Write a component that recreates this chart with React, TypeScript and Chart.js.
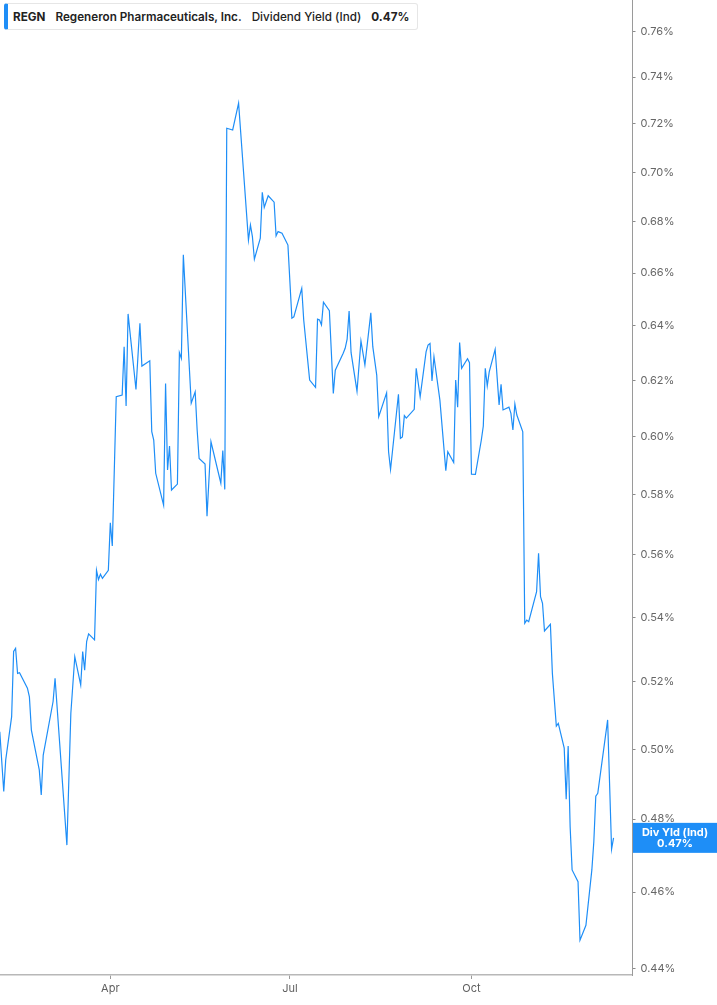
import { useEffect, useRef } from "react";
import { Chart, registerables, type Plugin } from "chart.js";

Chart.register(...registerables);

// trading dates and the indicated dividend yield (%)
const dates = [
  "2025-02-04", "2025-02-06", "2025-02-07", "2025-02-10", "2025-02-11", "2025-02-12", "2025-02-13", "2025-02-14",
  "2025-02-18", "2025-02-19", "2025-02-20", "2025-02-24", "2025-02-25", "2025-02-26", "2025-03-03", "2025-03-04",
  "2025-03-10", "2025-03-12", "2025-03-14", "2025-03-17", "2025-03-18", "2025-03-19", "2025-03-20", "2025-03-21",
  "2025-03-24", "2025-03-25", "2025-03-26", "2025-03-27", "2025-03-28", "2025-03-31", "2025-04-01", "2025-04-02",
  "2025-04-04", "2025-04-07", "2025-04-08", "2025-04-09", "2025-04-10", "2025-04-14", "2025-04-16", "2025-04-17",
  "2025-04-21", "2025-04-22", "2025-04-23", "2025-04-24", "2025-04-28", "2025-04-29", "2025-04-30", "2025-05-01",
  "2025-05-02", "2025-05-05", "2025-05-06", "2025-05-07", "2025-05-08", "2025-05-12", "2025-05-14", "2025-05-15",
  "2025-05-16", "2025-05-19", "2025-05-20", "2025-05-22", "2025-05-27", "2025-05-28", "2025-05-29", "2025-05-30",
  "2025-06-02", "2025-06-05", "2025-06-10", "2025-06-11", "2025-06-12", "2025-06-13", "2025-06-16", "2025-06-17",
  "2025-06-18", "2025-06-20", "2025-06-23", "2025-06-24", "2025-06-25", "2025-06-27", "2025-06-30", "2025-07-02",
  "2025-07-03", "2025-07-07", "2025-07-08", "2025-07-11", "2025-07-14", "2025-07-15", "2025-07-16", "2025-07-17",
  "2025-07-18", "2025-07-21", "2025-07-23", "2025-07-24", "2025-07-28", "2025-07-29", "2025-07-30", "2025-07-31",
  "2025-08-01", "2025-08-04", "2025-08-06", "2025-08-08", "2025-08-11", "2025-08-12", "2025-08-14", "2025-08-15",
  "2025-08-19", "2025-08-20", "2025-08-21", "2025-08-25", "2025-08-26", "2025-08-27", "2025-08-28", "2025-08-29",
  "2025-09-02", "2025-09-03", "2025-09-05", "2025-09-08", "2025-09-09", "2025-09-10", "2025-09-11", "2025-09-12",
  "2025-09-15", "2025-09-18", "2025-09-19", "2025-09-22", "2025-09-23", "2025-09-24", "2025-09-25", "2025-09-26",
  "2025-09-29", "2025-09-30", "2025-10-01", "2025-10-03", "2025-10-06", "2025-10-07", "2025-10-08", "2025-10-09",
  "2025-10-10", "2025-10-13", "2025-10-15", "2025-10-16", "2025-10-17", "2025-10-20", "2025-10-21", "2025-10-22",
  "2025-10-23", "2025-10-24", "2025-10-27", "2025-10-28", "2025-10-29", "2025-10-30", "2025-11-03", "2025-11-04",
  "2025-11-05", "2025-11-06", "2025-11-07", "2025-11-10", "2025-11-11", "2025-11-13", "2025-11-14", "2025-11-17",
  "2025-11-18", "2025-11-19", "2025-11-20", "2025-11-21", "2025-11-24", "2025-11-25", "2025-11-28", "2025-12-01",
  "2025-12-02", "2025-12-03", "2025-12-04", "2025-12-09", "2025-12-11", "2025-12-12",
];

const divYield = [
  0.5051, 0.4878, 0.4969, 0.5096, 0.5293, 0.5303, 0.5226, 0.5228,
  0.5181, 0.5155, 0.5056, 0.494, 0.4868, 0.4983, 0.5141, 0.5211,
  0.4728, 0.5106, 0.5277, 0.5191, 0.5293, 0.5236, 0.5324, 0.5348,
  0.5329, 0.555, 0.552, 0.5537, 0.5524, 0.555, 0.5706, 0.5629,
  0.6141, 0.6147, 0.6323, 0.6108, 0.6445, 0.6167, 0.641, 0.6252,
  0.6271, 0.6017, 0.5988, 0.5873, 0.5765, 0.6189, 0.5884, 0.5967,
  0.5816, 0.5836, 0.6301, 0.628, 0.6671, 0.6118, 0.6159, 0.6023,
  0.5924, 0.5905, 0.5728, 0.5982, 0.5839, 0.5951, 0.5818, 0.7182,
  0.7175, 0.7288, 0.6729, 0.6788, 0.6742, 0.6654, 0.6736, 0.6919,
  0.6858, 0.6905, 0.6879, 0.6745, 0.6762, 0.6756, 0.6709, 0.6429,
  0.6434, 0.6542, 0.6422, 0.6201, 0.6175, 0.6425, 0.6422, 0.6404,
  0.6489, 0.6457, 0.6153, 0.6237, 0.6299, 0.6317, 0.6351, 0.6456,
  0.6301, 0.6161, 0.6344, 0.6256, 0.6449, 0.6323, 0.6219, 0.607,
  0.6155, 0.5947, 0.5886, 0.615, 0.5994, 0.5999, 0.6074, 0.6065,
  0.6096, 0.6244, 0.6141, 0.6304, 0.6329, 0.6335, 0.6198, 0.6286,
  0.6129, 0.5882, 0.5947, 0.591, 0.6201, 0.6104, 0.6338, 0.6244,
  0.6279, 0.6264, 0.587, 0.5869, 0.5988, 0.6037, 0.6244, 0.618,
  0.6231, 0.6313, 0.6112, 0.6186, 0.6094, 0.6104, 0.6082, 0.6023,
  0.6115, 0.6076, 0.6017, 0.5381, 0.5391, 0.5386, 0.5481, 0.5605,
  0.5465, 0.5444, 0.5357, 0.5378, 0.5226, 0.5068, 0.5076, 0.5003,
  0.4856, 0.5009, 0.4779, 0.466, 0.4628, 0.4473, 0.4512, 0.466,
  0.4737, 0.4865, 0.4873, 0.5086, 0.4717, 0.4748,
];

const yTickValues = [
  0.44, 0.46, 0.48, 0.5, 0.52, 0.54, 0.56, 0.58, 0.6, 0.62, 0.64, 0.66, 0.68, 0.7, 0.72, 0.74, 0.76,
];
const xTickDates = ["2025-04-01", "2025-07-01", "2025-10-01"];
const xTickLabels = ["Apr", "Jul", "Oct"];

const LINE_COLOR = "#1e8ef7";
const FONT = "Inter, 'Noto Sans', sans-serif";

// day of the year, Jan 1 = 0
function dayOf(iso: string) {
  const [y, m, d] = iso.split("-").map(Number);
  return (Date.UTC(y, m - 1, d) - Date.UTC(y, 0, 1)) / 86400000;
}

const xTickDays = xTickDates.map(dayOf);
const X_MIN = dayOf(dates[0]) + 0.1;
const X_MAX = dayOf("2025-12-21") + 0.6;
const Y_MIN = 0.4383;
const Y_MAX = 0.774;

const latestLabel = divYield[divYield.length - 1].toFixed(2) + "%";

const lastValueBadge: Plugin<"line"> = {
  id: "lastValueBadge",
  afterDraw(chart) {
    const { ctx, chartArea, scales } = chart;
    const y = scales.y.getPixelForValue(divYield[divYield.length - 1]);
    const left = chartArea.right + 0.5;
    const right = chart.width;
    const h = 30;
    ctx.save();
    ctx.fillStyle = LINE_COLOR;
    ctx.fillRect(left, y - h / 2, right - left, h);
    ctx.fillStyle = "#ffffff";
    ctx.font = `bold 11px ${FONT}`;
    ctx.textAlign = "center";
    ctx.textBaseline = "middle";
    const cx = (left + right) / 2;
    ctx.fillText("Div Yld (Ind)", cx, y - 5.5);
    ctx.fillText(latestLabel, cx, y + 5.5);
    ctx.restore();
  },
};

function YieldChart() {
  const canvasRef = useRef<HTMLCanvasElement>(null);

  useEffect(() => {
    if (!canvasRef.current) return;
    const chart = new Chart(canvasRef.current, {
      type: "line",
      data: {
        datasets: [
          {
            data: dates.map((d, i) => ({ x: dayOf(d), y: divYield[i] })),
            borderColor: LINE_COLOR,
            borderWidth: 1.2,
            pointRadius: 0,
            tension: 0,
            fill: false,
          },
        ],
      },
      options: {
        animation: false,
        responsive: true,
        maintainAspectRatio: false,
        layout: { padding: 0 },
        plugins: { legend: { display: false }, tooltip: { enabled: false } },
        scales: {
          x: {
            type: "linear",
            min: X_MIN,
            max: X_MAX,
            afterBuildTicks: (s) => {
              s.ticks = xTickDays.map((v) => ({ value: v }));
            },
            afterFit: (s) => {
              s.height = 30;
              s.paddingLeft = 0;
              s.paddingRight = 0;
            },
            ticks: {
              autoSkip: false,
              maxRotation: 0,
              padding: 3,
              color: "#5f5f5f",
              font: { family: FONT, size: 11 },
              callback: (v) => xTickLabels[xTickDays.indexOf(Number(v))] ?? "",
            },
            grid: { drawOnChartArea: false, tickLength: 4, color: "#9a9a9a" },
            border: { color: "#b8b8b8", width: 1.5 },
          },
          y: {
            type: "logarithmic",
            position: "right",
            min: Y_MIN,
            max: Y_MAX,
            afterBuildTicks: (s) => {
              s.ticks = yTickValues.map((v) => ({ value: v }));
            },
            afterFit: (s) => {
              s.width = 84.5;
              s.paddingTop = 0;
              s.paddingBottom = 0;
            },
            ticks: {
              autoSkip: false,
              padding: 5,
              color: "#666666",
              font: { family: FONT, size: 11 },
              callback: (v) => Number(v).toFixed(2) + "%",
            },
            grid: { drawOnChartArea: false, tickLength: 3, color: "#8a8a8a" },
            border: { color: "#9a9a9a", width: 1 },
          },
        },
      },
      plugins: [lastValueBadge],
    });
    return () => chart.destroy();
  }, []);

  return <canvas ref={canvasRef} />;
}

export default function App() {
  return (
    <div
      style={{
        position: "absolute",
        left: 0,
        top: 0,
        width: 717,
        height: 1005,
        background: "#fff",
        fontFamily: FONT,
      }}
    >
      <YieldChart />
      <div
        style={{
          position: "absolute",
          left: 4,
          top: 3,
          height: 27,
          width: 414,
          boxSizing: "border-box",
          border: "1px solid #e6e6e6",
          borderLeft: `4px solid ${LINE_COLOR}`,
          borderRadius: 3,
          background: "#fff",
          display: "flex",
          alignItems: "center",
          gap: 10,
          paddingLeft: 5,
          fontSize: 11.7,
          color: "#222",
          whiteSpace: "nowrap",
        }}
      >
        <span style={{ fontWeight: 700 }}>REGN</span>
        <span style={{ fontWeight: 600 }}>Regeneron Pharmaceuticals, Inc.</span>
        <span style={{ fontWeight: 500 }}>Dividend Yield (Ind)</span>
        <span style={{ fontWeight: 700 }}>0.47%</span>
      </div>
    </div>
  );
}
